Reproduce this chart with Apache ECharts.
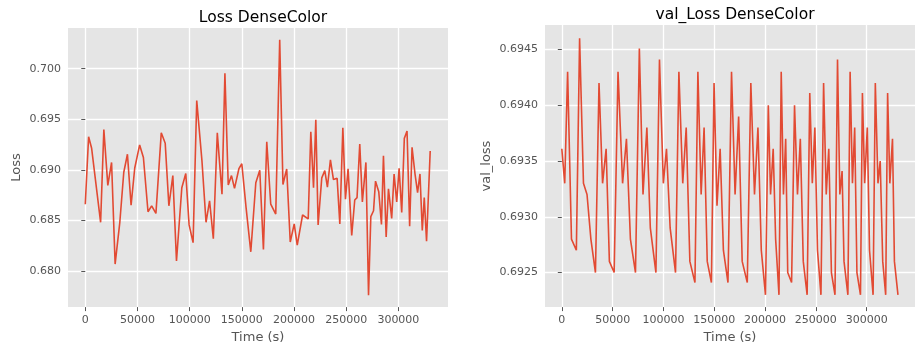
<!DOCTYPE html>
<html>
<head>
<meta charset="utf-8">
<script src="https://cdn.jsdelivr.net/npm/echarts@6/dist/echarts.min.js"></script>
<style>
html,body{margin:0;padding:0;background:#fff;}
#c{width:916px;height:349px;}
</style>
</head>
<body>
<div id="c"></div>
<script>
// ---- data ----
const lossTime = [0,3200,6100,14700,17800,21600,25200,28600,33100,36900,40400,43900,47400,52100,55700,60100,63600,67700,72800,76600,
80100,83900,87400,92500,96300,99500,103300,106800,111800,115700,119100,122700,126500,131000,133800,137000,140100,143000,147200,150000,154100,
158600,163400,167200,170700,173900,177700,182500,186300,189400,193000,196400,200200,203100,208200,213600,216100,218700,220900,223100,226600,229500,232000,234900,237800,
241300,243900,246800,249300,251800,255300,258200,260400,263000,265500,268900,271400,273600,276200,278100,281200,283800,285700,288300,290500,293600,295900,298400,300700,303200,305700,308300,310800,313100,315900,318400,320700,322900,324800,327000,330500];
const lossValues = [0.6866,0.69327,0.69213,0.68481,0.69398,0.68846,0.69073,0.68068,0.68481,0.68976,0.69154,0.68650,0.69018,0.69246,0.69122,0.68585,0.68644,0.68569,0.69366,0.69262,
0.68644,0.68943,0.68098,0.68823,0.68963,0.68455,0.68280,0.69685,0.69089,0.68481,0.68693,0.68319,0.69366,0.68758,0.69954,0.68849,0.68943,0.68816,0.69011,0.69060,0.68624,
0.68189,0.68872,0.68995,0.68211,0.69278,0.68660,0.68562,0.70286,0.68855,0.69008,0.68286,0.68465,0.68254,0.68553,0.68514,0.69376,0.68823,0.69496,0.68455,0.68920,0.68992,0.68829,0.69099,0.68904,
0.68917,0.68465,0.69415,0.68709,0.69011,0.68351,0.68702,0.68725,0.69255,0.68683,0.69073,0.67759,0.68537,0.68595,0.68888,0.68784,0.68459,0.69138,0.68335,0.68813,0.68520,0.68959,0.68683,0.69015,0.68579,0.69311,0.69385,0.68442,0.69223,0.68963,0.68774,0.68959,0.68400,0.68725,0.68293,0.69187];

const valTime = [0,2860,5700,9500,14300,17500,21300,24800,28600,33100,36600,40100,43600,46800,51500,55300,59800,63600,67500,72500,
76300,79900,83700,87100,92600,96100,99900,103000,106600,111900,115200,119000,122400,126000,131000,133900,137100,140000,143100,147200,
149800,152700,155800,159000,163500,167000,170500,174000,177500,182500,186000,189600,193000,196300,200400,203200,205400,208000,210400,213700,
215900,218100,220300,222300,226100,229000,231900,234700,237600,241400,244000,246500,249000,251600,255000,257600,260200,262700,265300,268800,
271300,273600,275800,277700,281500,283700,286000,288200,290400,293900,295800,298000,300600,302800,306300,308500,311100,313300,315800,318700,
320600,322800,325400,327300,330800];
const valValues = [0.69361,0.69330,0.69430,0.69280,0.69270,0.69460,0.69330,0.69320,0.69280,0.69250,0.69420,0.69330,0.69361,0.69260,0.69250,0.69430,0.69330,0.69370,0.69280,0.69250,
0.69451,0.69320,0.69380,0.69290,0.69250,0.69441,0.69330,0.69361,0.69290,0.69250,0.69430,0.69330,0.69380,0.69260,0.69241,0.69430,0.69320,0.69380,0.69260,0.69241,
0.69420,0.69310,0.69361,0.69270,0.69241,0.69430,0.69320,0.69390,0.69260,0.69241,0.69420,0.69320,0.69380,0.69270,0.69230,0.69400,0.69320,0.69361,0.69280,0.69230,
0.69430,0.69320,0.69370,0.69250,0.69241,0.69400,0.69320,0.69370,0.69260,0.69230,0.69411,0.69330,0.69380,0.69270,0.69230,0.69420,0.69320,0.69361,0.69250,0.69230,
0.69441,0.69320,0.69341,0.69260,0.69230,0.69430,0.69330,0.69380,0.69250,0.69230,0.69411,0.69330,0.69380,0.69270,0.69230,0.69420,0.69330,0.69350,0.69260,0.69230,
0.69411,0.69330,0.69370,0.69260,0.69230];

const xTicks = [0,50000,100000,150000,200000,250000,300000];
const lossTicks = [0.680,0.685,0.690,0.695,0.700];
const valTicks = [0.6925,0.6930,0.6935,0.6940,0.6945];
const titles = ['Loss DenseColor','val_Loss DenseColor'];
const yNames = ['Loss','val_loss'];
const xName = 'Time (s)';

// ---- chart ----
const FONT = 'DejaVu Sans';
const LINE = '#E24A33';
function xAxisCfg(idx, min, max){
  return {
    type:'value', gridIndex:idx, min:min, max:max,
    name:xName, nameLocation:'middle', nameGap:23,
    nameTextStyle:{color:'#555555', fontSize:13, fontFamily:FONT},
    axisLine:{show:false},
    axisTick:{show:true, length:4, lineStyle:{color:'#555555', width:1}, customValues:xTicks},
    axisLabel:{color:'#555555', fontSize:11, fontFamily:FONT, margin:8, customValues:xTicks,
      formatter:v=>String(Math.round(v))},
    splitLine:{show:true, lineStyle:{color:'#ffffff', width:1.3}}
  };
}
function yAxisCfg(idx, min, max, ticks, dec, nm, gap){
  return {
    type:'value', gridIndex:idx, min:min, max:max,
    name:nm, nameLocation:'middle', nameGap:gap, nameRotate:90,
    nameTextStyle:{color:'#555555', fontSize:13, fontFamily:FONT},
    axisLine:{show:false},
    axisTick:{show:true, length:4, lineStyle:{color:'#555555', width:1}, customValues:ticks},
    axisLabel:{color:'#555555', fontSize:11, fontFamily:FONT, margin:7, customValues:ticks,
      formatter:v=>v.toFixed(dec)},
    splitLine:{show:true, lineStyle:{color:'#ffffff', width:1.3}}
  };
}
const chart = echarts.init(document.getElementById('c'), null, {renderer:'canvas'});
chart.setOption({
  animation:false,
  backgroundColor:'#ffffff',
  title:[
    {text:titles[0], left:258, top:5, textAlign:'center', textStyle:{fontSize:15.5, fontWeight:'normal', color:'#000', fontFamily:FONT}},
    {text:titles[1], left:730, top:2, textAlign:'center', textStyle:{fontSize:15.5, fontWeight:'normal', color:'#000', fontFamily:FONT}}
  ],
  grid:[
    {left:68, right:468, top:28, bottom:38, backgroundColor:'#E5E5E5', show:true, borderWidth:0},
    {left:545, right:1, top:25, bottom:41, backgroundColor:'#E5E5E5', show:true, borderWidth:0}
  ],
  xAxis:[ xAxisCfg(0, -16550, 347550), xAxisCfg(1, -16550, 347550) ],
  yAxis:[
    yAxisCfg(0, 0.67642, 0.70403, lossTicks, 3, yNames[0], 45),
    yAxisCfg(1, 0.69219, 0.69472, valTicks, 4, yNames[1], 52)
  ],
  series:[
    {type:'line', xAxisIndex:0, yAxisIndex:0, data:lossTime.map((t,i)=>[t,lossValues[i]]),
      showSymbol:false, lineStyle:{color:LINE, width:1.6}, itemStyle:{color:LINE}},
    {type:'line', xAxisIndex:1, yAxisIndex:1, data:valTime.map((t,i)=>[t,valValues[i]]),
      showSymbol:false, lineStyle:{color:LINE, width:1.6}, itemStyle:{color:LINE}}
  ]
});
</script>
</body>
</html>
